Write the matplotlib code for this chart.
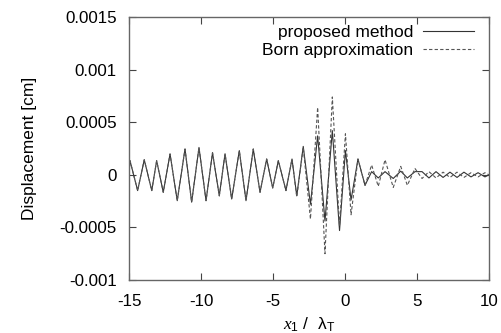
import matplotlib
matplotlib.use("Agg")
import matplotlib.pyplot as plt

plt.rcParams['font.family'] = ['Liberation Sans', 'DejaVu Sans']
plt.rcParams['mathtext.fontset'] = 'custom'
plt.rcParams['mathtext.rm'] = 'Liberation Sans'
plt.rcParams['mathtext.it'] = 'Liberation Serif:italic'
plt.rcParams['mathtext.sf'] = 'Liberation Sans'

# positions (x1 / lambda_T) of sampled extrema
x_pos = [-15.0, -14.93, -14.40, -13.94, -13.42, -13.08, -12.62, -12.15, -11.65, -11.11,
         -10.65, -10.14, -9.65, -9.20, -8.73, -8.33, -7.87, -7.34, -6.875, -6.37,
         -5.90, -5.44, -5.02, -4.63, -4.10, -3.68, -3.35, -2.90, -2.40, -1.90,
         -1.39, -0.88, -0.38, 0.03, 0.42, 0.90, 1.39, 1.85, 2.31, 2.78,
         3.35, 3.87, 4.33, 4.86, 5.35, 5.83, 6.32, 6.81, 7.29, 7.78,
         8.26, 8.75, 9.24, 9.72, 10.0]

# displacement [cm]
proposed = [0.3e-4, 1.34e-4, -1.5e-4, 1.43e-4, -1.5e-4, 1.34e-4, -1.66e-4, 1.98e-4, -2.46e-4, 2.45e-4,
            -2.6e-4, 2.6e-4, -2.46e-4, 2.1e-4, -2.0e-4, 2.0e-4, -2.3e-4, 2.3e-4, -2.46e-4, 2.45e-4,
            -1.66e-4, 1.5e-4, -1.25e-4, 1.34e-4, -1.5e-4, 1.5e-4, -2.0e-4, 2.7e-4, -2.8e-4, 3.7e-4,
            -4.4e-4, 4.2e-4, -5.3e-4, 2.3e-4, -2.4e-4, 1.5e-4, -1.0e-4, 0.3e-4, -0.3e-4, 0.3e-4,
            -0.35e-4, 0.35e-4, -0.3e-4, 0.3e-4, 0.3e-4, -0.3e-4, 0.3e-4, -0.25e-4, 0.25e-4, -0.25e-4,
            0.25e-4, -0.2e-4, 0.2e-4, -0.2e-4, 0.0]

born = [0.2e-4, 1.34e-4, -1.5e-4, 1.43e-4, -1.5e-4, 1.34e-4, -1.66e-4, 1.98e-4, -2.46e-4, 2.45e-4,
        -2.6e-4, 2.6e-4, -2.46e-4, 2.1e-4, -2.0e-4, 2.0e-4, -2.3e-4, 2.3e-4, -2.46e-4, 2.45e-4,
        -1.66e-4, 1.5e-4, -1.25e-4, 1.34e-4, -1.5e-4, 1.5e-4, -2.1e-4, 2.6e-4, -4.2e-4, 6.4e-4,
        -7.5e-4, 7.4e-4, -4.9e-4, 3.9e-4, -3.8e-4, 1.5e-4, -1.0e-4, 0.93e-4, -1.1e-4, 1.43e-4,
        -1.2e-4, 0.8e-4, -1.0e-4, 0.6e-4, -0.35e-4, 0.3e-4, -0.3e-4, 0.25e-4, -0.25e-4, 0.25e-4,
        -0.25e-4, 0.2e-4, -0.2e-4, 0.2e-4, 0.0]

yticks = [-0.001, -0.0005, 0, 0.0005, 0.001, 0.0015]
ytick_labels = ['-0.001', '-0.0005', '0', '0.0005', '0.001', '0.0015']
xticks = [-15, -10, -5, 0, 5, 10]
xtick_labels = ['-15', '-10', '-5', '0', '5', '10']

fig = plt.figure(figsize=(5.01, 3.33), dpi=100)
ax = fig.add_axes([129/501, 1-280/333, 360/501, 263/333])

ax.plot(x_pos, proposed, color='#333333', lw=0.8, label='proposed method')
ax.plot(x_pos, born, color='#555555', lw=0.8, linestyle=(0, (3, 2)), label='Born approximation')

ax.set_xlim(-15, 10)
ax.set_ylim(-0.001, 0.0015)
ax.set_xticks(xticks)
ax.set_xticklabels(xtick_labels)
ax.set_yticks(yticks)
ax.set_yticklabels(ytick_labels)
ax.tick_params(direction='in', top=True, right=True, length=5, width=0.8,
               labelsize=12.2, color='#444444')
ax.tick_params(axis='y', pad=9)
ax.tick_params(axis='x', pad=10)
for s in ax.spines.values():
    s.set_color('#666666')
    s.set_linewidth(1.0)

ax.set_ylabel('Displacement [cm]', fontsize=12.5, labelpad=16)
ax.set_xlabel(r'$x_{\mathrm{1}}$ /  λ$_\mathrm{T}$', fontsize=12.5, labelpad=5)

ax.legend(loc='upper right', bbox_to_anchor=(0.977, 0.998), frameon=False, markerfirst=False,
          fontsize=12.5, handlelength=2.95, borderaxespad=0.0, labelspacing=0.2,
          handletextpad=0.55)

fig.savefig('out.png', dpi=100)
